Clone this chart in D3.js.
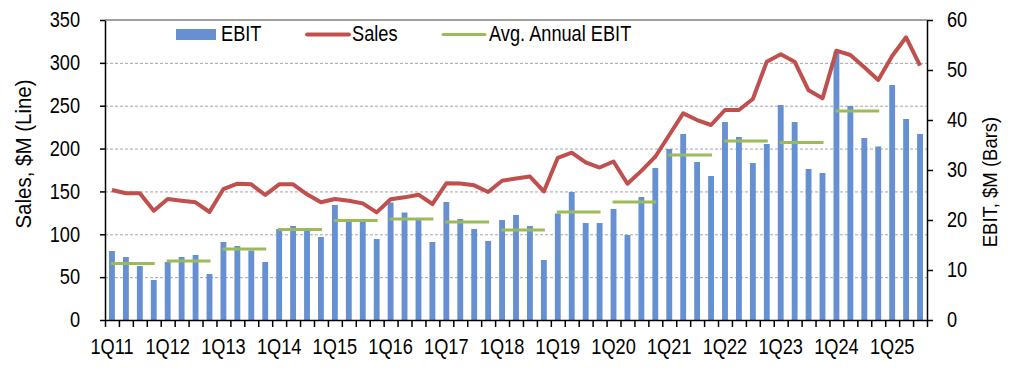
<!DOCTYPE html>
<html>
<head>
<meta charset="utf-8">
<script src="https://cdn.jsdelivr.net/npm/d3@7"></script>
<style>
  body { margin: 0; background: #fff; }
  svg { display: block; font-family: "Liberation Sans", Arial, sans-serif; }
</style>
</head>
<body>
<div id="chart"></div>
<script>

// quarter labels, 1Q11 .. 3Q25
var quarters = [
  "1Q11","2Q11","3Q11","4Q11","1Q12","2Q12","3Q12","4Q12","1Q13","2Q13","3Q13","4Q13",
  "1Q14","2Q14","3Q14","4Q14","1Q15","2Q15","3Q15","4Q15","1Q16","2Q16","3Q16","4Q16",
  "1Q17","2Q17","3Q17","4Q17","1Q18","2Q18","3Q18","4Q18","1Q19","2Q19","3Q19","4Q19",
  "1Q20","2Q20","3Q20","4Q20","1Q21","2Q21","3Q21","4Q21","1Q22","2Q22","3Q22","4Q22",
  "1Q23","2Q23","3Q23","4Q23","1Q24","2Q24","3Q24","4Q24","1Q25","2Q25","3Q25"
];

// EBIT, $M (bars, right axis)
var ebit = [
  13.8, 12.6, 10.8, 8.0, 11.6, 12.6, 13.0, 9.2, 15.6, 14.8, 13.9, 11.6,
  18.2, 18.8, 18.0, 16.6, 23.0, 19.9, 20.0, 16.2, 23.5, 21.5, 20.0, 15.6,
  23.6, 20.2, 18.2, 15.8, 20.0, 21.0, 18.8, 12.0, 21.3, 25.6, 19.4, 19.4,
  22.2, 17.0, 24.6, 30.4, 34.2, 37.2, 31.6, 28.8, 39.6, 36.6, 31.4, 35.2,
  43.0, 39.6, 30.2, 29.4, 53.7, 42.8, 36.4, 34.7, 47.0, 40.2, 37.2
];

// Sales, $M (line, left axis)
var sales = [
  151.7, 147.8, 147.8, 127.5, 141.2, 139.2, 137.3, 126.0, 152.8, 159.0, 158.3, 145.8,
  158.3, 158.3, 146.6, 137.3, 141.2, 139.2, 136.1, 125.6, 140.8, 143.1, 146.2, 135.3,
  159.4, 159.2, 157.1, 149.3, 162.5, 165.0, 167.4, 150.0, 189.2, 195.2, 183.8, 177.9,
  184.9, 159.0, 174.0, 190.5, 215.8, 241.1, 233.3, 227.5, 245.0, 245.0, 257.8, 301.4,
  310.0, 301.4, 268.0, 258.6, 314.2, 309.2, 294.8, 280.0, 308.0, 329.8, 296.8
];

// average annual EBIT, one per full year
var avgYears = ["11","12","13","14","15","16","17","18","19","20","21","22","23","24"];
var avgEbit = [11.3, 11.8, 14.2, 18.1, 19.9, 20.2, 19.6, 18.0, 21.6, 23.6, 33.0, 35.8, 35.5, 41.8];

var salesTicks = [0, 50, 100, 150, 200, 250, 300, 350];
var ebitTicks = [0, 10, 20, 30, 40, 50, 60];
var legendText = ["EBIT", "Sales", "Avg. Annual EBIT"];

var width = 1016;
var height = 370;
var plotL = 105, plotR = 927, plotT = 20, plotB = 320;

var blue = "#6690d2", red = "#c0504d", green = "#9bbb59";

// the chart's text is a narrow, tall face: squeeze it sideways and stretch it up
var squeeze = "scale(0.91,1.07)";

var svg = d3.select("#chart")
            .append("svg")
            .attr("width", width)
            .attr("height", height);

var x = d3.scaleBand()
          .domain(quarters)
          .range([plotL, plotR])
          .padding(0);

// position of category boundaries (ticks sit between bars)
var xEdge = d3.scaleLinear()
              .domain([0, quarters.length])
              .range([plotL, plotR]);

var ySales = d3.scaleLinear().domain([0, 350]).range([plotB, plotT]);
var yEbit = d3.scaleLinear().domain([0, 60]).range([plotB, plotT]);

// dashed gridlines from the sales axis
svg.append("g")
   .selectAll("line")
   .data(salesTicks.filter(function(d) { return d > 0 && d < 350; }))
   .enter()
   .append("line")
   .attr("x1", plotL)
   .attr("x2", plotR)
   .attr("y1", function(d) { return ySales(d) + 0.5; })
   .attr("y2", function(d) { return ySales(d) + 0.5; })
   .style("stroke", "#a6a6a6")
   .style("stroke-width", 1)
   .style("stroke-dasharray", "3,2");

// top border
svg.append("line")
   .attr("x1", plotL).attr("x2", plotR)
   .attr("y1", ySales(350)).attr("y2", ySales(350))
   .style("stroke", "#7f7f7f")
   .style("stroke-width", 1.5);

// EBIT bars
var barW = x.bandwidth() * 0.42;
svg.append("g")
   .selectAll("rect")
   .data(ebit)
   .enter()
   .append("rect")
   .attr("x", function(d, i) { return x(quarters[i]) + x.bandwidth() / 2 - barW / 2; })
   .attr("y", function(d) { return yEbit(d); })
   .attr("width", barW)
   .attr("height", function(d) { return plotB - yEbit(d); })
   .style("fill", blue);

// average annual EBIT segments, 1Q to 4Q of each year
svg.append("g")
   .selectAll("line")
   .data(avgEbit)
   .enter()
   .append("line")
   .attr("x1", function(d, i) { return x("1Q" + avgYears[i]) + x.bandwidth() / 2 - 1; })
   .attr("x2", function(d, i) { return x("4Q" + avgYears[i]) + x.bandwidth() / 2 + 1; })
   .attr("y1", function(d) { return yEbit(d); })
   .attr("y2", function(d) { return yEbit(d); })
   .style("stroke", green)
   .style("stroke-width", 3);

// sales line
var line = d3.line()
             .x(function(d, i) { return x(quarters[i]) + x.bandwidth() / 2; })
             .y(function(d) { return ySales(d); });

svg.append("path")
   .datum(sales)
   .attr("d", line)
   .style("fill", "none")
   .style("stroke", red)
   .style("stroke-width", 4)
   .style("stroke-linejoin", "round");

// left axis
var yAxisL = svg.append("g")
   .attr("transform", "translate(" + plotL + ",0)")
   .call(d3.axisLeft(ySales).tickValues(salesTicks).tickSize(5).tickPadding(20).tickSizeOuter(0));

// right axis
var yAxisR = svg.append("g")
   .attr("transform", "translate(" + plotR + ",0)")
   .call(d3.axisRight(yEbit).tickValues(ebitTicks).tickSize(6).tickPadding(14).tickSizeOuter(0));

// bottom axis: ticks at every quarter boundary
var xAxis = svg.append("g")
   .attr("transform", "translate(0," + plotB + ")")
   .call(d3.axisBottom(xEdge).tickValues(d3.range(quarters.length + 1)).tickFormat("").tickSize(7).tickSizeOuter(0));

[yAxisL, yAxisR, xAxis].forEach(function(g) {
  g.select(".domain").style("stroke", "#000").style("stroke-width", 1.5);
  g.selectAll(".tick line").style("stroke", "#000").style("stroke-width", 1.5);
  g.selectAll("text")
   .style("font-size", "20px")
   .style("fill", "#000")
   .style("font-family", "Liberation Sans, Arial, sans-serif")
   .attr("transform", function() {
      var tx = +d3.select(this).attr("x") || 0;
      return "translate(" + tx + ",0) " + squeeze;
   })
   .attr("x", 0);
});

// year labels under the 1Q of each year
svg.append("g")
   .selectAll("text")
   .data(quarters.filter(function(d) { return d.slice(0, 2) == "1Q"; }))
   .enter()
   .append("text")
   .attr("transform", function(d) { return "translate(" + (x(d) + x.bandwidth() / 2) + ",354) " + squeeze; })
   .attr("text-anchor", "middle")
   .style("font-size", "20px")
   .text(function(d) { return d; });

// axis titles
svg.append("text")
   .attr("transform", "translate(31,154) rotate(-90) scale(1,1.07)")
   .attr("text-anchor", "middle")
   .style("font-size", "20.5px")
   .text("Sales, $M (Line)");

svg.append("text")
   .attr("transform", "translate(997,182) rotate(-90) scale(1,1.07)")
   .attr("text-anchor", "middle")
   .style("font-size", "18.5px")
   .text("EBIT, $M (Bars)");

// legend
var legend = svg.append("g");

legend.append("rect")
      .attr("x", 176).attr("y", 29)
      .attr("width", 40).attr("height", 11)
      .style("fill", blue);
legend.append("line")
      .attr("x1", 307).attr("x2", 349)
      .attr("y1", 34.5).attr("y2", 34.5)
      .style("stroke", red).style("stroke-width", 4).style("stroke-linecap", "round");
legend.append("line")
      .attr("x1", 443).attr("x2", 485)
      .attr("y1", 34.5).attr("y2", 34.5)
      .style("stroke", green).style("stroke-width", 3).style("stroke-linecap", "round");

legend.selectAll("text")
      .data(legendText)
      .enter()
      .append("text")
      .attr("transform", function(d, i) { return "translate(" + [221, 352, 489][i] + ",41) " + squeeze; })
      .style("font-size", "20px")
      .text(function(d) { return d; });

</script>
</body>
</html>
